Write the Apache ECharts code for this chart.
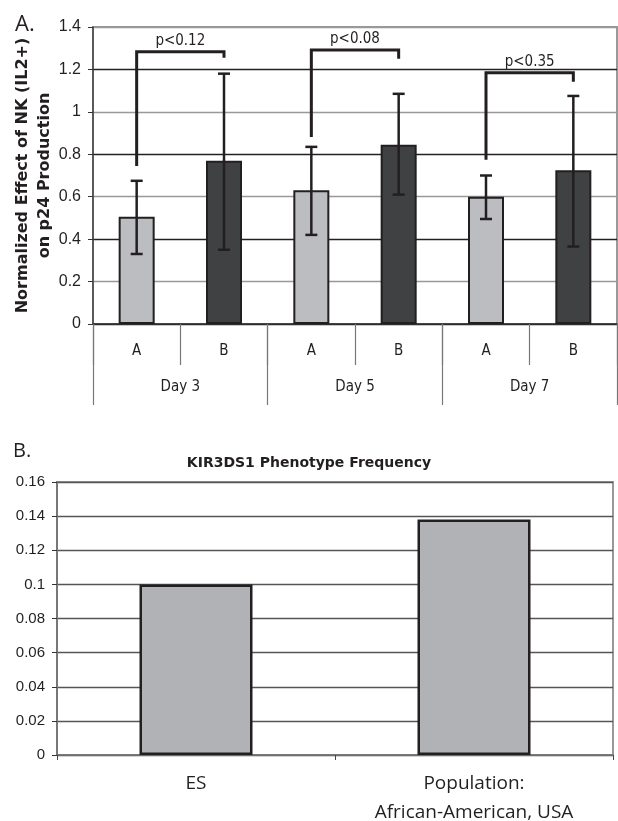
<!DOCTYPE html>
<html>
<head>
<meta charset="utf-8">
<script src="https://cdn.jsdelivr.net/npm/echarts@6/dist/echarts.min.js"></script>
<style>
  html, body { margin: 0; padding: 0; background: #fff; }
  #chart { width: 618px; height: 821px; }
</style>
</head>
<body>
<div id="chart"></div>
<script>
// panel A: NK effect on p24 production
var groupLabels = ['A', 'B', 'A', 'B', 'A', 'B']
var dayLabels = ['Day 3', 'Day 5', 'Day 7']
var effectMean = [0.505, 0.77, 0.63, 0.845, 0.60, 0.725]
var errLow = [0.33, 0.35, 0.42, 0.61, 0.495, 0.365]
var errHigh = [0.675, 1.18, 0.835, 1.085, 0.70, 1.075]
// brackets: [left bar, right bar, left foot, top, right foot]
var bracketData = [
  [0, 1, 0.745, 1.283, 1.255],
  [2, 3, 0.882, 1.292, 1.25],
  [4, 5, 0.774, 1.184, 1.142]
]
var bracketLabels = ['p<0.12', 'p<0.08', 'p<0.35']

// panel B: KIR3DS1 phenotype frequency
var freqCategories = ['ES', 'Population:\nAfrican-American, USA']
var freqValues = [0.10, 0.138]

var ink = '#231f20'
var lightBar = '#bcbdc0'
var darkBar = '#404143'
var narrow = '"DejaVu Sans Condensed", Roboto, sans-serif'

var chart = echarts.init(document.getElementById('chart'))

var option = {
  backgroundColor: '#fff',
  animation: false,
  title: [
    {
      text: 'A.',
      left: 10, top: 9,
      textStyle: { fontFamily: 'Open Sans', fontSize: 22, fontWeight: 'normal', color: ink }
    },
    {
      text: 'B.',
      left: 8, top: 436,
      textStyle: { fontFamily: 'Open Sans', fontSize: 20, fontWeight: 'normal', color: ink }
    },
    {
      text: 'KIR3DS1 Phenotype Frequency',
      left: 'center', top: 451,
      textStyle: { fontFamily: 'DejaVu Sans', fontSize: 14, fontWeight: 'bold', color: ink }
    }
  ],
  grid: [
    {
      left: 93, top: 27, width: 524, height: 297,
      outerBoundsMode: 'none',
      show: true, borderColor: '#999', borderWidth: 2
    },
    {
      left: 57, top: 482, width: 556, height: 273,
      outerBoundsMode: 'none',
      show: true, borderColor: '#999', borderWidth: 2
    }
  ],
  xAxis: [
    {
      type: 'category',
      gridIndex: 0,
      data: groupLabels,
      axisLine: { lineStyle: { color: '#333', width: 1.5 } },
      axisTick: { show: true, interval: 0, length: 41, lineStyle: { color: '#777', width: 1.2 } },
      axisLabel: { margin: 20, fontFamily: narrow, fontSize: 15, color: ink }
    },
    {
      type: 'category',
      gridIndex: 0,
      position: 'bottom',
      data: dayLabels,
      axisLine: { show: false },
      axisTick: { show: true, interval: 0, length: 81, lineStyle: { color: '#777', width: 1.2 } },
      axisLabel: { margin: 56, fontFamily: narrow, fontSize: 15, color: ink }
    },
    {
      type: 'category',
      gridIndex: 1,
      data: freqCategories,
      axisLine: { lineStyle: { color: '#777', width: 1.5 } },
      axisTick: { show: true, interval: 0, length: 5, lineStyle: { color: '#444' } },
      axisLabel: { margin: 14, fontFamily: 'Open Sans', fontSize: 19, lineHeight: 29, color: ink }
    }
  ],
  yAxis: [
    {
      type: 'value',
      gridIndex: 0,
      min: 0, max: 1.4, interval: 0.2,
      name: 'Normalized Effect of NK (IL2+)\non p24 Production',
      nameLocation: 'middle',
      nameRotate: 90,
      nameGap: 37,
      nameMoveOverlap: false,
      nameTextStyle: { fontFamily: 'DejaVu Sans', fontSize: 16, fontWeight: 'bold', lineHeight: 22, color: ink },
      axisLine: { show: true, lineStyle: { color: '#444', width: 1.5 } },
      axisTick: { show: true, length: 5, lineStyle: { color: '#333' } },
      axisLabel: { margin: 12, fontFamily: 'Liberation Sans', fontSize: 16, color: ink },
      splitLine: { lineStyle: { color: ['#222', '#999'], width: 1.3 } }
    },
    {
      type: 'value',
      gridIndex: 1,
      min: 0, max: 0.16, interval: 0.02,
      axisLine: { show: true, lineStyle: { color: '#777', width: 2 } },
      axisTick: { show: true, length: 5, lineStyle: { color: '#333' } },
      axisLabel: { margin: 12, fontFamily: 'Liberation Sans', fontSize: 15, color: ink },
      splitLine: { lineStyle: { color: '#555', width: 1.3 } }
    }
  ],
  series: [
    {
      type: 'bar',
      xAxisIndex: 0,
      yAxisIndex: 0,
      barWidth: 36,
      data: effectMean.map(function (v, i) {
        return {
          value: v,
          itemStyle: { color: i % 2 === 0 ? lightBar : darkBar }
        }
      }),
      itemStyle: { borderColor: ink, borderWidth: 2 },
      z: 3
    },
    {
      type: 'custom',
      xAxisIndex: 0,
      yAxisIndex: 0,
      data: effectMean.map(function (v, i) { return [i, errLow[i], errHigh[i]] }),
      renderItem: function (params, api) {
        var lo = api.coord([api.value(0), api.value(1)])
        var hi = api.coord([api.value(0), api.value(2)])
        var cap = 6
        var style = { stroke: ink, lineWidth: 2.5 }
        return {
          type: 'group',
          children: [
            { type: 'line', shape: { x1: hi[0], y1: hi[1], x2: lo[0], y2: lo[1] }, style: style },
            { type: 'line', shape: { x1: hi[0] - cap, y1: hi[1], x2: hi[0] + cap, y2: hi[1] }, style: style },
            { type: 'line', shape: { x1: lo[0] - cap, y1: lo[1], x2: lo[0] + cap, y2: lo[1] }, style: style }
          ]
        }
      },
      z: 5
    },
    {
      type: 'custom',
      xAxisIndex: 0,
      yAxisIndex: 0,
      data: bracketData,
      renderItem: function (params, api) {
        var leftFoot = api.coord([api.value(0), api.value(2)])
        var leftTop = api.coord([api.value(0), api.value(3)])
        var rightTop = api.coord([api.value(1), api.value(3)])
        var rightFoot = api.coord([api.value(1), api.value(4)])
        return {
          type: 'group',
          children: [
            {
              type: 'polyline',
              shape: { points: [leftFoot, leftTop, rightTop, rightFoot] },
              style: { stroke: ink, lineWidth: 3, fill: null }
            },
            {
              type: 'text',
              style: {
                text: bracketLabels[params.dataIndex],
                x: (leftTop[0] + rightTop[0]) / 2,
                y: leftTop[1] - 3,
                align: 'center',
                verticalAlign: 'bottom',
                font: '15px ' + narrow,
                fill: ink
              }
            }
          ]
        }
      },
      z: 6
    },
    {
      type: 'bar',
      xAxisIndex: 2,
      yAxisIndex: 1,
      barWidth: 113,
      data: freqValues,
      itemStyle: { color: '#b1b2b5', borderColor: ink, borderWidth: 2.5 },
      z: 3
    }
  ]
}

chart.setOption(option)
</script>
</body>
</html>
